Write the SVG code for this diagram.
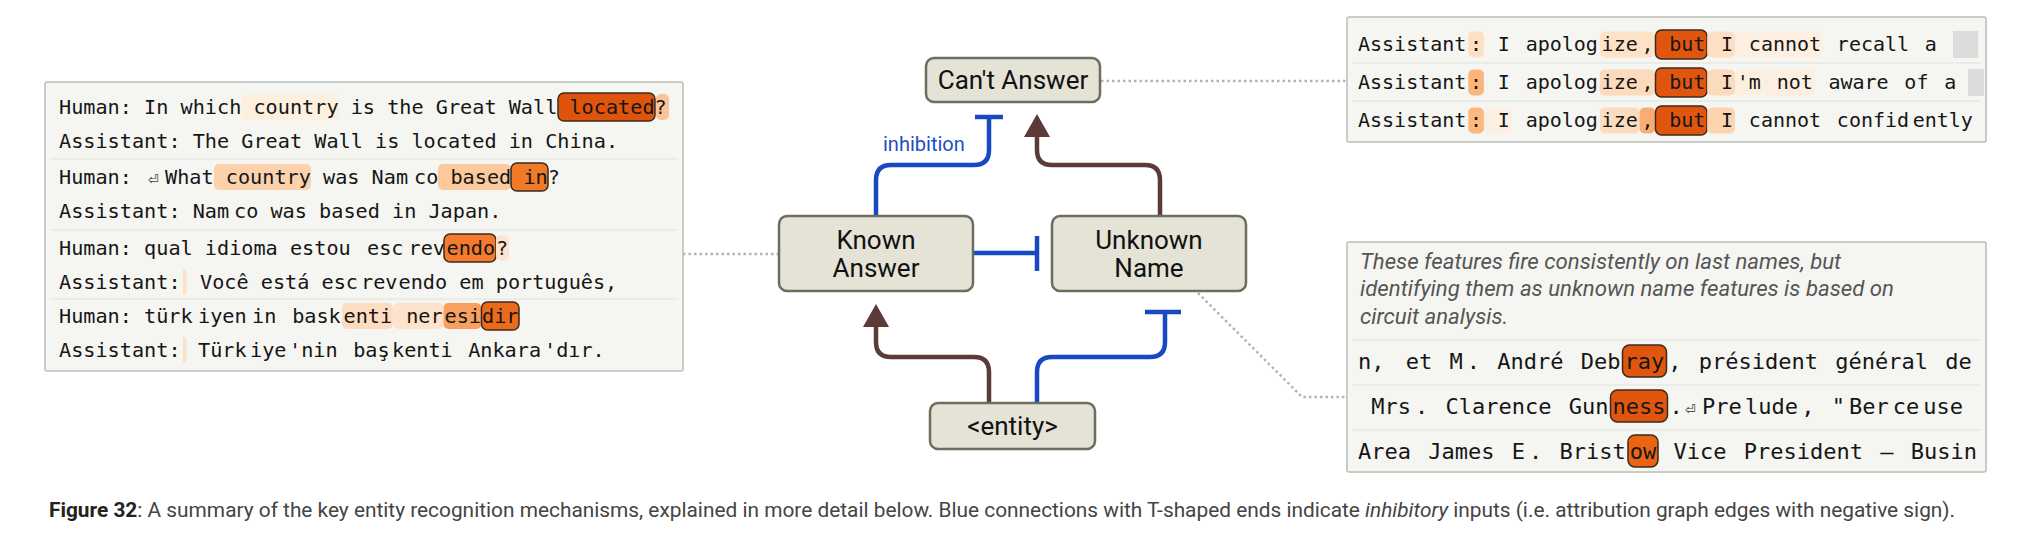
<svg xmlns="http://www.w3.org/2000/svg" width="2040" height="558" viewBox="0 0 2040 558">
<style>
.bg{fill:#ffffff}
.panel{fill:#f5f5f1;stroke:#bdbdb6;stroke-width:1.5}
.sep{stroke:#e3e3dc;stroke-width:1.2}
.mL{font-family:"DejaVu Sans Mono",monospace;font-size:20.2px;fill:#161616}
.m20{font-family:"DejaVu Sans Mono",monospace;font-size:20px;fill:#161616}
.m22{font-family:"DejaVu Sans Mono",monospace;font-size:22px;fill:#161616}
.ret{font-family:"DejaVu Sans",sans-serif;font-size:13px;fill:#333}
.ital{font-family:Roboto,"Liberation Sans",sans-serif;font-style:italic;font-size:22.2px;fill:#555}
.box{stroke:#3a2a20;stroke-width:1.5}
.node rect{fill:#e5e2d6;stroke:#6e6b5f;stroke-width:2.5}
.node text{font-family:Roboto,"Liberation Sans",sans-serif;font-size:26px;fill:#111;text-anchor:middle}
.dot{fill:none;stroke:#b3b3b3;stroke-width:2.5;stroke-dasharray:2.5 3}
.inh{fill:none;stroke:#1848c2;stroke-width:4.5}
.exc{fill:none;stroke:#5c3a3a;stroke-width:4.5}
.cap{font-family:Roboto,"Liberation Sans",sans-serif;font-size:20.85px;fill:#444}
</style>
<defs>
<clipPath id="clipRB"><rect x="1348" y="340" width="628" height="130"/></clipPath>
</defs>
<rect class="bg" x="0" y="0" width="2040" height="558"/>

<g id="panel-left">
<rect class="panel" x="45" y="82" width="638" height="289" rx="2"/>
<line class="sep" x1="50" y1="159" x2="678" y2="159"/>
<line class="sep" x1="50" y1="230" x2="678" y2="230"/>
<line class="sep" x1="50" y1="299" x2="678" y2="299"/>
<rect x="242" y="94" width="97" height="26" rx="5" fill="#fdf0df"/>
<rect class="box" x="558" y="93" width="97" height="28" rx="6" fill="#e0530b"/>
<rect x="656" y="94" width="13" height="26" rx="5" fill="#fbc496"/>
<text class="mL" xml:space="preserve" x="59" y="114">Human: In which country is the Great Wall located?</text>
<text class="mL" xml:space="preserve" x="59" y="148">Assistant: The Great Wall is located in China.</text>
<rect x="214" y="164" width="97" height="26" rx="5" fill="#fcd2ad"/>
<rect x="438" y="164" width="73" height="26" rx="5" fill="#fcc99e"/>
<rect class="box" x="511" y="163" width="37" height="28" rx="6" fill="#f07a28"/>
<text class="mL" xml:space="preserve" y="184"><tspan x="59">Human: </tspan><tspan x="148" class="ret">⏎</tspan><tspan x="165">What country was Nam</tspan><tspan x="414">co based in?</tspan></text>
<text class="mL" xml:space="preserve" y="218"><tspan x="59">Assistant: Nam</tspan><tspan x="234">co was based in Japan.</tspan></text>
<rect class="box" x="444" y="234" width="52" height="28" rx="6" fill="#f47b2b"/>
<rect x="496" y="235" width="13" height="26" rx="5" fill="#fde4cf"/>
<text class="mL" xml:space="preserve" y="255"><tspan x="59">Human: qual idioma estou</tspan><tspan x="367">esc</tspan><tspan x="408.5">rev</tspan><tspan x="446.5">endo</tspan><tspan x="496">?</tspan></text>
<rect x="183" y="269" width="3.5" height="26" fill="#fde2c8"/>
<text class="mL" xml:space="preserve" y="289"><tspan x="59">Assistant:</tspan><tspan x="200">Você está esc</tspan><tspan x="361">rev</tspan><tspan x="398.5">endo em português,</tspan></text>
<rect x="342" y="303" width="51" height="26" rx="5" fill="#fddcc0"/>
<rect x="393.5" y="303" width="50" height="26" rx="5" fill="#fde3cc"/>
<rect x="443.5" y="303" width="38" height="26" rx="5" fill="#f9a060"/>
<rect class="box" x="481.5" y="302" width="37.5" height="28" rx="6" fill="#ec6a1c"/>
<text class="mL" xml:space="preserve" y="323"><tspan x="59">Human: </tspan><tspan x="144">türk</tspan><tspan x="198">iyen</tspan><tspan x="252">in</tspan><tspan x="280"> bask</tspan><tspan x="343.5">enti</tspan><tspan x="394"> ner</tspan><tspan x="444.5">esi</tspan><tspan x="482">dir</tspan></text>
<rect x="183" y="337" width="3.5" height="26" fill="#fde2c8"/>
<text class="mL" xml:space="preserve" y="357"><tspan x="59">Assistant:</tspan><tspan x="198">Türk</tspan><tspan x="250">iye</tspan><tspan x="289">'nin</tspan><tspan x="341"> baş</tspan><tspan x="392">kenti</tspan><tspan x="456"> Ankara</tspan><tspan x="544">'dır.</tspan></text>
</g>

<g id="panel-right-top">
<rect class="panel" x="1347" y="17" width="639" height="125" rx="2"/>
<line class="sep" x1="1352" y1="63" x2="1981" y2="63"/>
<line class="sep" x1="1352" y1="101" x2="1981" y2="101"/>
<rect x="1468.3" y="31.5" width="15.6" height="26" rx="5" fill="#fde0c4"/>
<rect x="1599.8" y="31.5" width="55.4" height="26" rx="5" fill="#fde2c8"/>
<rect class="box" x="1655.5" y="30" width="51.5" height="29" rx="6" fill="#e0560e"/>
<rect x="1707.2" y="31.5" width="27.7" height="26" rx="5" fill="#fde0c4"/>
<rect x="1735" y="31.5" width="87.9" height="26" rx="5" fill="#fdf0e2"/>
<rect x="1953" y="31" width="25" height="27" fill="#dcdcdc"/>
<text class="m20" xml:space="preserve" y="51"><tspan x="1358">Assistant</tspan><tspan x="1470.1">:</tspan><tspan x="1485.8"> I</tspan><tspan x="1513.6"> apolog</tspan><tspan x="1601.6">ize</tspan><tspan x="1641.4">,</tspan><tspan x="1657.1"> but</tspan><tspan x="1709"> I</tspan><tspan x="1736.8"> cannot</tspan><tspan x="1824.8"> recall</tspan><tspan x="1912.7"> a</tspan></text>
<rect x="1468.3" y="69.5" width="15.6" height="26" rx="5" fill="#fbb57a"/>
<rect x="1599.8" y="69.5" width="55.4" height="26" rx="5" fill="#fcdabc"/>
<rect class="box" x="1655.5" y="68" width="51.5" height="29" rx="6" fill="#e0560e"/>
<rect x="1707.2" y="69.5" width="27.7" height="26" rx="5" fill="#fcdabc"/>
<rect x="1735" y="69.5" width="27.7" height="26" rx="5" fill="#fdefe0"/>
<rect x="1762.8" y="69.5" width="51.7" height="26" rx="5" fill="#fdefe0"/>
<rect x="1968" y="69" width="16" height="27" fill="#dcdcdc"/>
<text class="m20" xml:space="preserve" y="89"><tspan x="1358">Assistant</tspan><tspan x="1470.1">:</tspan><tspan x="1485.8"> I</tspan><tspan x="1513.6"> apolog</tspan><tspan x="1601.6">ize</tspan><tspan x="1641.4">,</tspan><tspan x="1657.1"> but</tspan><tspan x="1709"> I</tspan><tspan x="1736.8">'m</tspan><tspan x="1764.6"> not</tspan><tspan x="1816.4"> aware</tspan><tspan x="1892.3"> of</tspan><tspan x="1932.1"> a</tspan></text>
<rect x="1468.3" y="107.5" width="15.6" height="26" rx="5" fill="#fbb881"/>
<rect x="1484" y="107.5" width="27.7" height="26" rx="5" fill="#fdf0e3"/>
<rect x="1599.8" y="107.5" width="39.8" height="26" rx="5" fill="#fcdcc0"/>
<rect x="1639.6" y="107.5" width="15.6" height="26" rx="5" fill="#f9ad72"/>
<rect class="box" x="1655.5" y="106" width="51.5" height="29" rx="6" fill="#e0560e"/>
<rect x="1707.2" y="107.5" width="27.7" height="26" rx="5" fill="#fcd4b0"/>
<text class="m20" xml:space="preserve" y="127"><tspan x="1358">Assistant</tspan><tspan x="1470.1">:</tspan><tspan x="1485.8"> I</tspan><tspan x="1513.6"> apolog</tspan><tspan x="1601.6">ize</tspan><tspan x="1641.4">,</tspan><tspan x="1657.1"> but</tspan><tspan x="1709"> I</tspan><tspan x="1736.8"> cannot</tspan><tspan x="1824.8"> confid</tspan><tspan x="1912.7">ently</tspan></text>
</g>

<g id="panel-right-bottom">
<rect class="panel" x="1347" y="242" width="639" height="230" rx="2"/>
<text class="ital" x="1360" y="268.5">These features fire consistently on last names, but</text>
<text class="ital" x="1360" y="296">identifying them as unknown name features is based on</text>
<text class="ital" x="1360" y="323.5">circuit analysis.</text>
<line class="sep" x1="1352" y1="340" x2="1981" y2="340"/>
<line class="sep" x1="1352" y1="385" x2="1981" y2="385"/>
<line class="sep" x1="1352" y1="430" x2="1981" y2="430"/>
<g clip-path="url(#clipRB)">
<rect class="box" x="1622.5" y="345" width="44" height="32" rx="7" fill="#e0560e"/>
<text class="m22" xml:space="preserve" y="369"><tspan x="1358">n,</tspan><tspan x="1392.5"> et</tspan><tspan x="1436.25"> M</tspan><tspan x="1466.75">.</tspan><tspan x="1484"> André</tspan><tspan x="1567.5"> Deb</tspan><tspan x="1624.5">ray</tspan><tspan x="1668.25">,</tspan><tspan x="1685.5"> président</tspan><tspan x="1822"> général</tspan><tspan x="1932"> de</tspan></text>
<rect class="box" x="1610.5" y="390" width="57" height="32" rx="7" fill="#e0560e"/>
<text class="m22" xml:space="preserve" y="414"><tspan x="1358"> Mrs</tspan><tspan x="1415">.</tspan><tspan x="1432.25"> Clarence</tspan><tspan x="1555.5"> Gun</tspan><tspan x="1612.5">ness</tspan><tspan x="1669.5">.</tspan><tspan x="1685" class="ret">⏎</tspan><tspan x="1702">Pre</tspan><tspan x="1745">lude</tspan><tspan x="1801.25">,</tspan><tspan x="1818.5"> "</tspan><tspan x="1849">Ber</tspan><tspan x="1892.75">ce</tspan><tspan x="1923.25">use</tspan></text>
<rect class="box" x="1628" y="435" width="30" height="32" rx="7" fill="#ea6412"/>
<text class="m22" xml:space="preserve" y="459"><tspan x="1358">Area</tspan><tspan x="1415"> James</tspan><tspan x="1498.5"> E</tspan><tspan x="1529">.</tspan><tspan x="1546.25"> Brist</tspan><tspan x="1629.75">ow</tspan><tspan x="1660.25"> Vice</tspan><tspan x="1730.5"> President</tspan><tspan x="1867"> –</tspan><tspan x="1897.5"> Business</tspan></text>
</g>
</g>

<g id="connectors">
<path class="dot" d="M1101 81 H1347"/>
<path class="dot" d="M779 254 H683"/>
<path class="dot" d="M1198 293 L1302 397 H1347"/>
<path class="inh" d="M876 215 V180 Q876 165 891 165 H974 Q989 165 989 150 V117"/>
<path class="inh" d="M975 117 H1003"/>
<text x="883" y="151" font-family="Roboto,'Liberation Sans',sans-serif" font-size="20" fill="#1d4fbf">inhibition</text>
<path class="exc" d="M1160 215 V180 Q1160 165 1145 165 H1052 Q1037 165 1037 150 V134"/>
<polygon points="1037,114 1024,137 1050,137" fill="#5c3a3a"/>
<path class="inh" d="M973 253 H1037"/>
<path class="inh" d="M1037 236 V271"/>
<path class="exc" d="M989 403 V372 Q989 357 974 357 H891 Q876 357 876 342 V324"/>
<polygon points="876,304 863,327 889,327" fill="#5c3a3a"/>
<path class="inh" d="M1037 403 V372 Q1037 357 1052 357 H1150 Q1165 357 1165 342 V312"/>
<path class="inh" d="M1145 312 H1181"/>
</g>

<g id="node-cant-answer" class="node">
<rect x="926" y="58" width="174" height="44" rx="8"/>
<text x="1013" y="89">Can't Answer</text>
</g>
<g id="node-known-answer" class="node">
<rect x="779" y="216" width="194" height="75" rx="8"/>
<text x="876" y="249">Known</text>
<text x="876" y="277">Answer</text>
</g>
<g id="node-unknown-name" class="node">
<rect x="1052" y="216" width="194" height="75" rx="8"/>
<text x="1149" y="249">Unknown</text>
<text x="1149" y="277">Name</text>
</g>
<g id="node-entity" class="node">
<rect x="930" y="403" width="165" height="46" rx="8"/>
<text x="1012.5" y="435">&lt;entity&gt;</text>
</g>

<g id="caption">
<text class="cap" x="49" y="517"><tspan font-weight="bold" fill="#222">Figure 32</tspan>: A summary of the key entity recognition mechanisms, explained in more detail below. Blue connections with T-shaped ends indicate <tspan font-style="italic">inhibitory</tspan> inputs (i.e. attribution graph edges with negative sign).</text>
</g>
</svg>
